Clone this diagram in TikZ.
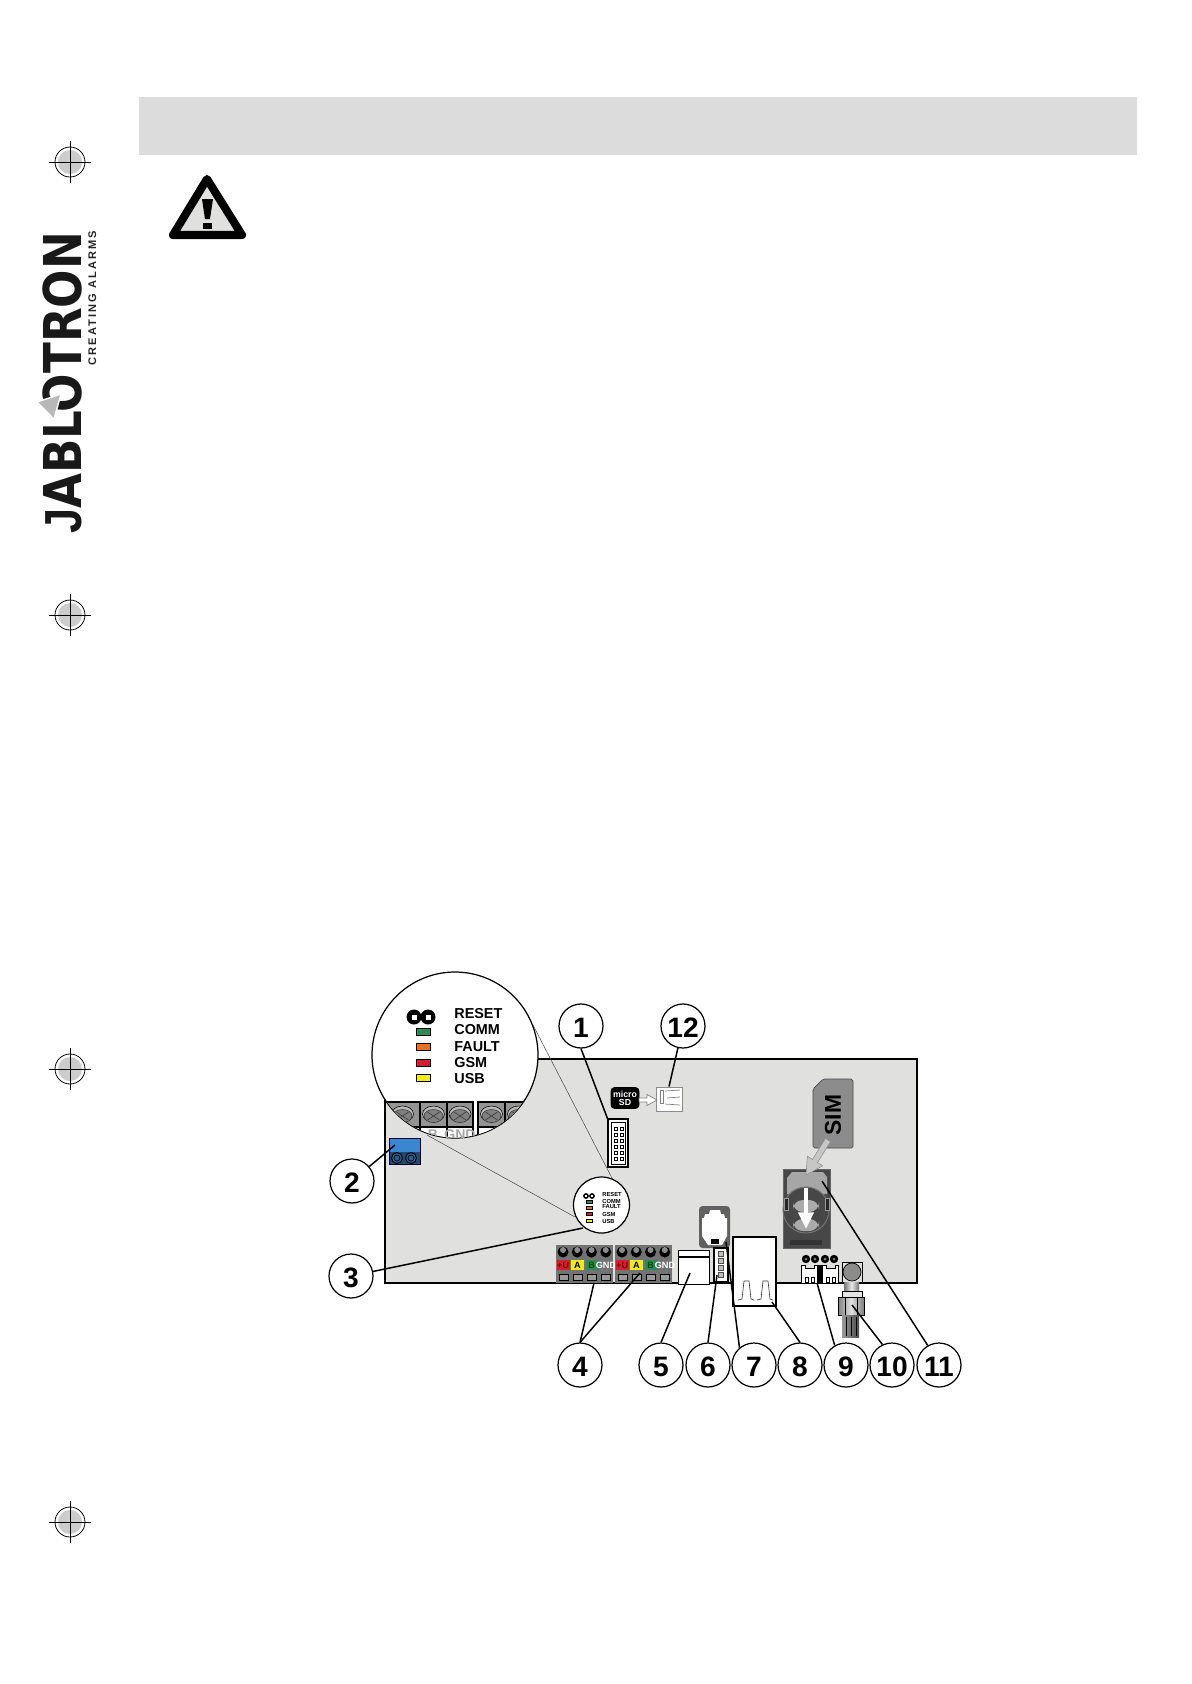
\documentclass[tikz,border=0pt]{standalone}
\usepackage{fontspec}
\setmainfont{Liberation Sans}
\newfontfamily\spacedfont[LetterSpace=19]{Liberation Sans}
\newfontfamily\logofont{DejaVu Sans}
\usetikzlibrary{arrows.meta, positioning, calc}
\definecolor{boardgray}{HTML}{E0E0DE}
\definecolor{bargray}{HTML}{DCDCDC}
\definecolor{ledgreen}{HTML}{2E8B57}
\definecolor{ledorange}{HTML}{E8701F}
\definecolor{ledred}{HTML}{D2202F}
\definecolor{ledyellow}{HTML}{F2EA1C}
\definecolor{sliceblue}{HTML}{3A86D0}

\begin{document}
\begin{tikzpicture}[
    x = 0.02cm, y = -0.02cm,
    callout/.style = {
        circle, draw=black, fill=white, line width=0.7pt,
        minimum size = 44*0.02cm,
        inner sep    = 0pt,
        text height  = 13.6pt,
        text depth   = 0pt,
        font = \fontsize{16}{16}\bfseries\selectfont
    },
    leader/.style   = { draw=black, line width=0.85pt },
    thinline/.style = { draw=black!70, line width=0.3pt },
    boardline/.style= { draw=black, line width=1.2pt },
    part/.style     = { draw=black, line width=0.6pt, fill=white },
    ledlabel/.style = { anchor=west, inner sep=0pt, font=\fontsize{8.2}{9}\bfseries\selectfont },
    ledsmall/.style = { anchor=west, inner sep=0pt, font=\fontsize{3.3}{4}\bfseries\selectfont },
    termlabel/.style= { inner sep=0pt, font=\fontsize{5.2}{6}\bfseries\selectfont },
    regmark/.style  = { draw=black, line width=0.45pt },
]
\useasboundingbox (0,0) rectangle (1191,1684);

%% ── Page furniture ──────────────────────────────────────────────────────
\fill[bargray] (139,97) rectangle (1137,155);

\foreach \ypos/\mk in {162/a, 615/b, 1069/c, 1522/d} {
    \fill[black!20] (70,\ypos) circle (12);
    \draw[regmark] (70,\ypos) circle (15);
    \draw[regmark] (49,\ypos) -- (91,\ypos);
    \draw[regmark] (70,\ypos-21) -- (70,\ypos+21);
}

\draw[black, fill=boardgray, line width=4.6pt, line join=round]
    (207,179) -- (242,235) -- (173,235) -- cycle;
\fill[black] (202,199) -- (213,199) -- (210,219) -- (205,219) -- cycle;
\fill[black] (203,223) rectangle (212,229);

\node[rotate=90, xscale=.865, anchor=base west, inner sep=0pt,
      font=\fontsize{29.7}{30}\logofont\bfseries\selectfont, text=black!90] (logo) at (81,534)
    {{\rmfamily J}ABLOTRON};
\node[rotate=90, anchor=base west, inner sep=0pt, text=black!85,
      font=\fontsize{6.3}{7}\spacedfont\bfseries\selectfont] (claim) at (96,366) {CREATING ALARMS};
\draw[white, fill=black!28, line width=0.8pt] (61,394) -- (37,402) -- (54,419) -- cycle;

%% ── Board ───────────────────────────────────────────────────────────────
\draw[boardline, fill=boardgray] (385,1059) rectangle (917,1283);

%% ── Terminal blocks ─────────────────────────────────────────────────────
\foreach \xleft in {556, 615} {
    \fill[black!55] (\xleft,1245) rectangle (\xleft+57,1283);
    \foreach \idx/\cellcol/\txtcol/\txt in {0/ledred/red!50!black/{+U}, 1/ledyellow/black/A,
                                             2/ledgreen/green!30!black/B, 3/black!55/white/GND} {
        \fill[black] (\xleft+7+14.25*\idx,1252) circle (5.5);
        \fill[black!45] (\xleft+7+14.25*\idx,1250) circle (3);
        \fill[\cellcol] (\xleft+1+14.25*\idx,1260) rectangle (\xleft+14+14.25*\idx,1270);
        \node[termlabel, text=\txtcol] at (\xleft+7.2+14.25*\idx,1265) {\txt};
        \draw[black, fill=black!40, line width=0.4pt]
            (\xleft+3+14.25*\idx,1274) rectangle (\xleft+12+14.25*\idx,1280);
    }
}
\coordinate (termA) at (594,1283);
\coordinate (termB) at (640,1273);

%% ── Parts on the board ──────────────────────────────────────────────────
% header
\node[part, minimum width=20*0.02cm, minimum height=48*0.02cm, inner sep=0pt] (hdr) at (618,1143) {};
\draw[black, line width=0.4pt] (611,1122) rectangle (625,1164);
\foreach \row in {0,...,5} {
    \draw[black, line width=0.4pt] (614,1127+6*\row) rectangle +(3,3.6);
    \draw[black, line width=0.4pt] (620,1127+6*\row) rectangle +(3,3.6);
}

% microSD and its socket
\node[draw=black, fill=black, rounded corners=2pt, minimum width=28*0.02cm, minimum height=21*0.02cm,
      inner sep=0pt, text=white, align=center, font=\fontsize{5}{4.5}\bfseries\selectfont] (card) at (625,1098) {micro\\SD};
\node[draw=black!45, fill=white, line width=0.5pt, minimum width=26*0.02cm, minimum height=24*0.02cm,
      inner sep=0pt] (socket) at (669,1099) {};
\draw[black!50, line width=0.4pt] (660,1090) rectangle (663,1103);
\draw[black!50, line width=0.4pt] (665,1091) -- (680,1090) (667,1098) -- (680,1097) (665,1104) -- (680,1105);
\draw[black!50, fill=white, line width=0.4pt]
    (639,1098) -- (647,1098) -- (647,1094.5) -- (657,1100) -- (647,1105.5) -- (647,1102) -- (639,1102) -- cycle;

% blue power terminal
\node[draw=black!80!blue, fill=sliceblue, line width=0.5pt, minimum width=31*0.02cm, minimum height=26*0.02cm,
      inner sep=0pt] (blue) at (404.5,1151) {};
\fill[sliceblue!55!black] (389.5,1152) rectangle (419.5,1163.5);
\foreach \xpos in {397, 411} {
    \draw[black, fill=sliceblue!70!black, line width=0.5pt] (\xpos,1158) circle (5.5);
    \draw[black, line width=0.4pt] (\xpos,1158) circle (3);
}
\coordinate (bluetip) at (395,1145);

% phone jack
\node[fill=black!62, rounded corners=2pt, minimum width=31*0.02cm, minimum height=42*0.02cm,
      inner sep=0pt] (jack) at (714.5,1227) {};
\fill[white] (710,1210) -- (720,1210) -- (721,1214) -- (724,1214) -- (725,1218) -- (727,1218)
    -- (727,1236) -- (722,1245) -- (708,1245) -- (702,1236) -- (702,1218) -- (704,1218)
    -- (705,1214) -- (709,1214) -- cycle;
\fill[black] (711,1239) rectangle (719,1244);
\coordinate (jacktip) at (726,1242);

% white connector
\node[part, line width=0.5pt, minimum width=31*0.02cm, minimum height=34*0.02cm, inner sep=0pt] (plug) at (693.5,1267) {};
\draw[black, line width=1.1pt] (678,1257) -- (709,1257);
\coordinate (plugtip) at (690,1273);

% pin header
\node[draw=black, fill=white, line width=0.6pt, minimum width=14*0.02cm, minimum height=34*0.02cm, inner sep=0pt] (pins) at (721,1265) {};
\foreach \row in {0,...,3}
    \draw[black!70, fill=black!25, line width=0.4pt] (718.5,1251+7.2*\row) rectangle +(5,5);
\coordinate (pinstip) at (717,1275);

% USB socket
\node[draw=black, fill=white, line width=0.95pt, minimum width=43*0.02cm, minimum height=69*0.02cm, inner sep=0pt] (usb) at (754.5,1271.5) {};
\foreach \xpos in {738, 757}
    \draw[black!80, line width=0.35pt] (\xpos,1300) -- (\xpos+4,1299) -- (\xpos+6,1281) -- (\xpos+11,1281) -- (\xpos+13,1299) -- (\xpos+16,1300);
\coordinate (usbtip) at (772,1302);

% SIM holder
\node[draw=black!60, fill=black!72, minimum width=47*0.02cm, minimum height=79*0.02cm, inner sep=0pt] (holder) at (806.5,1208.5) {};
\fill[black!35] (787,1194) -- (787,1178) -- (792,1172) -- (823,1172) -- (827,1177) -- (827,1194) -- cycle;
\draw[black!55, fill=black!72, line width=0.6pt] (806,1210) circle (23);
\draw[black!40, fill=black!85, line width=0.3pt] (784,1198) rectangle (788,1210) (825,1198) rectangle (829,1210);
\fill[black!80] (790,1240) rectangle (822,1245);
\foreach \ypos in {1206, 1225}
    \fill[black!33, rounded corners=5.5pt] (793,\ypos-6) rectangle (819,\ypos+6);
\draw[white, line width=2.8pt, -{Triangle[length=9.5pt,width=8.5pt]}] (806,1188) -- (806,1229);
\coordinate (holdertip) at (822,1181);

% SIM card
\fill[black!45, rounded corners=1pt] (823,1079) -- (853,1079) -- (853,1148) -- (813,1148) -- (813,1089) -- cycle;
\draw[black!70, line width=0.4pt, rounded corners=1pt] (823,1079) -- (853,1079) -- (853,1148) -- (813,1148) -- (813,1089) -- cycle;
\node[rotate=90, inner sep=0pt, font=\fontsize{13}{13}\bfseries\selectfont] (simtext) at (833,1115) {SIM};
\draw[black!45, fill=black!22, line width=0.3pt]
    (825.5,1138.4) -- (830.5,1141.6) -- (817.5,1162.6) -- (822.6,1165.8) -- (806,1175)
    -- (807.4,1156.2) -- (812.5,1159.4) -- cycle;

% two-pin connectors
\foreach \xpos in {806, 815, 825, 834} {
    \fill[black] (\xpos,1259) circle (4.2);
    \fill[black!50] (\xpos,1259) circle (1.5);
}
\foreach \xleft in {801, 822} {
    \draw[part, line width=0.5pt] (\xleft,1265) -- (\xleft+4,1265) -- (\xleft+4,1268) -- (\xleft+13,1268)
        -- (\xleft+13,1265) -- (\xleft+16.5,1265) -- (\xleft+16.5,1283) -- (\xleft,1283) -- cycle;
    \draw[black, line width=0.35pt] (\xleft+4,1277) rectangle +(3,5) (\xleft+10,1277) rectangle +(3,5);
}
\fill[black] (818,1265) rectangle (822,1283);
\coordinate (molextip) at (817,1283);

% antenna connector
\draw[black, fill=boardgray, line width=0.4pt] (842,1262) rectangle (862,1282);
\fill[black!45] (852,1272) circle (9);
\draw[black, line width=0.4pt] (852,1272) circle (9);
\shade[left color=black!55, right color=black!55, middle color=black!8] (844,1282) rectangle (859,1291);
\draw[black, fill=black!10, line width=0.4pt] (842,1291) rectangle (862,1297);
\shade[draw=black, left color=black!50, right color=black!50, middle color=black!12, line width=0.4pt] (838,1297) rectangle (864,1315);
\draw[black, line width=0.4pt] (845,1297) -- (845,1315) (857,1297) -- (857,1315);
\shade[left color=black!40, right color=black!70] (842,1315) rectangle (859,1337);
\foreach \xpos in {846, 851, 856}
    \draw[black, line width=0.5pt] (\xpos,1317) -- (\xpos,1336);
\coordinate (antennatip) at (852,1305);

%% ── Magnifier ───────────────────────────────────────────────────────────
\coordinate (bigtop)    at (533,1025);
\coordinate (smalltop)  at (613,1180);
\coordinate (bigbot)    at (427,1135);
\coordinate (smallbot)  at (575,1217);
\draw[thinline] (bigtop) -- (smalltop);
\draw[thinline] (bigbot) -- (smallbot);

\node[circle, draw=black, fill=white, line width=0.7pt, minimum size=166*0.02cm, inner sep=0pt] (bigcirc) at (455,1055) {};
\begin{scope}
    \clip (455,1055) circle (82.6);
    \foreach \xa/\xb in {385/420, 420/447, 447/473, 478/505, 505/532} {
        \draw[black, fill=black!42, line width=0.6pt] (\xa,1102) rectangle (\xb,1127);
        \draw[black, fill=black!28, line width=0.3pt] ({(\xa+\xb)/2},1114) ellipse (11 and 8);
        \draw[black!80, fill=black!50, line width=0.3pt] ({(\xa+\xb)/2},1116) ellipse (9.5 and 6.5);
        \draw[black!80, line width=0.3pt] ({(\xa+\xb)/2-6},1112) -- ({(\xa+\xb)/2+6},1120)
                                          ({(\xa+\xb)/2-6},1120) -- ({(\xa+\xb)/2+6},1112);
        \draw[black, fill=white, line width=0.6pt] (\xa,1127) rectangle (\xb,1145);
    }
    \node[inner sep=0pt, text=black!35, font=\fontsize{8}{8}\bfseries\selectfont] (bigb) at (433,1135) {B};
    \node[inner sep=0pt, text=black!35, font=\fontsize{8}{8}\bfseries\selectfont] (biggnd) at (460,1135) {GND};
\end{scope}

\foreach \xpos in {414, 428} {
    \fill[black] (\xpos,1017) circle (7.5);
    \fill[white] (\xpos-2.5,1014.5) rectangle (\xpos+2.5,1019.5);
}
\foreach \ypos/\ledcol in {1032/ledgreen, 1047/ledorange, 1063/ledred, 1078/ledyellow}
    \draw[black, fill=\ledcol, line width=0.35pt] (416,\ypos-3.5) rectangle (430,\ypos+3.5);
\node[ledlabel] (reset) at (454,1014) {RESET};
\node[ledlabel] (comm)  at (454,1030) {COMM};
\node[ledlabel] (fault) at (454,1047) {FAULT};
\node[ledlabel] (gsm)   at (454,1063) {GSM};
\node[ledlabel] (usbl)  at (454,1079) {USB};

\node[circle, draw=black, fill=white, line width=0.7pt, minimum size=56*0.02cm, inner sep=0pt] (smallcirc) at (601.5,1205) {};
\foreach \xpos in {586, 592} {
    \fill[black] (\xpos,1196) circle (2.9);
    \fill[white] (\xpos-.8,1195.2) rectangle (\xpos+.8,1196.8);
}
\foreach \ypos/\ledcol in {1202/ledgreen, 1208/ledorange, 1214/ledred, 1221/ledyellow}
    \draw[black, fill=\ledcol, line width=0.25pt] (586,\ypos-1.5) rectangle (592.5,\ypos+1.5);
\node[ledsmall] (sreset) at (602,1194) {RESET};
\node[ledsmall] (scomm)  at (602,1201) {COMM};
\node[ledsmall] (sfault) at (602,1207) {FAULT};
\node[ledsmall] (sgsm)   at (602,1214) {GSM};
\node[ledsmall] (susb)   at (602,1221) {USB};
\coordinate (smalltip) at (583,1228);

%% ── Callouts ────────────────────────────────────────────────────────────
\node[callout] (c1)  at (581,1026) {1};
\node[callout] (c12) at (683,1026) {12};
\node[callout] (c2)  at (352,1181) {2};
\node[callout] (c3)  at (351,1276) {3};
\node[callout] (c4)  at (580,1365) {4};
\node[callout] (c5)  at (661,1365) {5};
\node[callout] (c6)  at (708,1365) {6};
\node[callout] (c7)  at (754,1365) {7};
\node[callout] (c8)  at (800,1365) {8};
\node[callout] (c9)  at (846,1365) {9};
\node[callout] (c10) at (892,1365) {10};
\node[callout] (c11) at (939,1365) {11};

\draw[leader] (c1.south) -- (hdr.north west);
\draw[leader] (c12) -- (socket.north);
\draw[leader] (c2) -- (bluetip);
\draw[leader] (c3) -- (smalltip);
\draw[leader] (c4.north) -- (termA);
\draw[leader] (c4.north) -- (termB);
\draw[leader] (c5.north) -- (plugtip);
\draw[leader] (c6.north) -- (pinstip);
\draw[leader] (c7.130) -- (jacktip);
\draw[leader] (c8.north) -- (usbtip);
\draw[leader] (c9.120) -- (molextip);
\draw[leader] (c10.115) -- (antennatip);
\draw[leader] (c11.120) -- (holdertip);

\end{tikzpicture}
\end{document}
